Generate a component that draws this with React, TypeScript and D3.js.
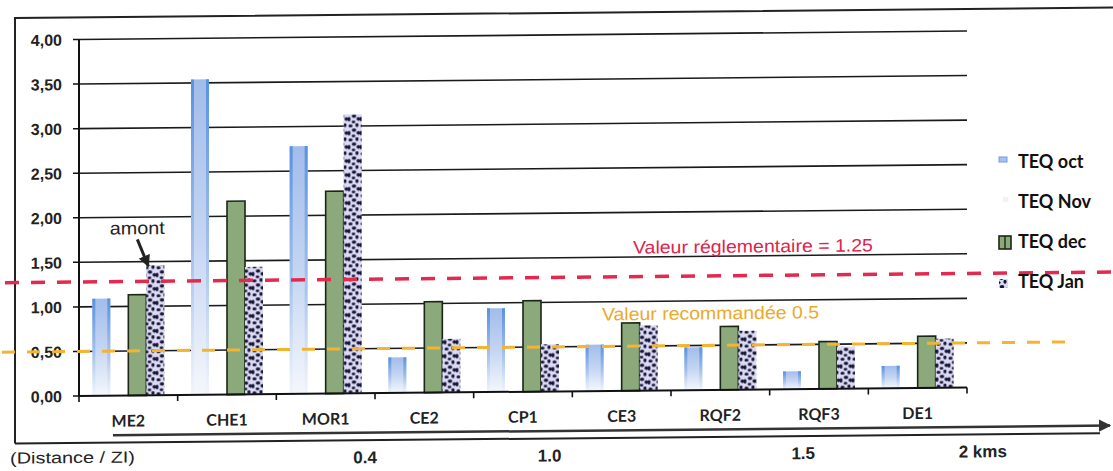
import React from "react";
import * as d3 from "d3";

// sites along the river, upstream -> downstream
const sites = ["ME2", "CHE1", "MOR1", "CE2", "CP1", "CE3", "RQF2", "RQF3", "DE1"];
const seriesNames = ["TEQ oct", "TEQ Nov", "TEQ dec", "TEQ Jan"];

const teqOct = [1.09, 3.54, 2.78, 0.4, 0.94, 0.52, 0.48, 0.2, 0.25];
// Nov bars are not visible in the source picture
const teqNov: (number | null)[] = [null, null, null, null, null, null, null, null, null];
const teqDec = [1.13, 2.17, 2.27, 1.02, 1.02, 0.76, 0.71, 0.53, 0.58];
const teqJan = [1.46, 1.43, 3.13, 0.6, 0.53, 0.73, 0.66, 0.47, 0.55];

const yTicks = [0, 0.5, 1, 1.5, 2, 2.5, 3, 3.5, 4];

const limitLabels = ["Valeur réglementaire = 1.25", "Valeur recommandée 0.5"];
const limitValues = [1.28, 0.5];

const distanceTitle = "(Distance / ZI)";
const distanceLabels = ["0.4", "1.0", "1.5", "2 kms"];
// position expressed in site index (0 = ME2 ... 8 = DE1)
const distanceAt = [2.4, 4.27, 6.84, 8.66];

const upstreamLabel = "amont";

const W = 1113;
const H = 471;
const plotLeft = 79;
const plotRight = 967;
const yBase = 396;
const yTop = 39.5;
const skew = Math.tan((0.55 * Math.PI) / 180);

const frenchFmt = d3
  .formatLocale({ decimal: ",", thousands: " ", grouping: [3], currency: ["", "€"] })
  .format(".2f");

const App: React.FC = () => {
  const x0 = d3.scaleBand<string>().domain(sites).range([plotLeft, plotRight]).padding(0);
  const x1 = d3
    .scaleBand<string>()
    .domain(seriesNames)
    .range([0, x0.bandwidth()])
    .paddingInner(0)
    .paddingOuter(0.74);
  const y = d3.scaleLinear().domain([0, 4]).range([yBase, yTop]);
  const dist = d3
    .scaleLinear()
    .domain([0, sites.length - 1])
    .range([x0(sites[0])! + x0.bandwidth() / 2, x0(sites[sites.length - 1])! + x0.bandwidth() / 2]);

  const values: Record<string, (number | null)[]> = {
    "TEQ oct": teqOct,
    "TEQ Nov": teqNov,
    "TEQ dec": teqDec,
    "TEQ Jan": teqJan,
  };

  const bw = x1.bandwidth();

  const bar = (s: string, i: number) => {
    const v = values[s][i];
    if (v == null) return null;
    const bx = x0(sites[i])! + x1(s)!;
    const by = y(v);
    const bh = yBase - by;
    if (s === "TEQ oct") {
      return (
        <g key={s + i}>
          <rect x={bx} y={by} width={bw} height={bh} fill="url(#octFill)" />
          <rect x={bx} y={by} width={3} height={bh} fill="url(#octEdge)" />
          <rect x={bx + bw - 3} y={by} width={3} height={bh} fill="url(#octEdge)" />
        </g>
      );
    }
    if (s === "TEQ dec") {
      return (
        <rect key={s + i} x={bx} y={by} width={bw} height={bh} fill="#8ca97b" stroke="#1c2616" strokeWidth={1.6} />
      );
    }
    if (s === "TEQ Jan") {
      return <rect key={s + i} x={bx} y={by} width={bw} height={bh} fill="url(#janPattern)" />;
    }
    return <rect key={s + i} x={bx} y={by} width={bw} height={bh} fill="#f6f6f9" />;
  };

  // "amont" arrow points at the Jan bar of the first site
  const tipX = x0(sites[0])! + x1("TEQ Jan")! + 2;
  const tipY = y(teqJan[0]) + 1;

  const legendY = [168, 208, 248, 288];

  return (
    <svg
      width={W}
      height={H}
      style={{ position: "absolute", left: 0, top: 0, background: "#fff" }}
      fontFamily="'Liberation Sans', Arial, sans-serif"
    >
      <defs>
        <linearGradient id="octFill" x1="0" y1="0" x2="0" y2="1">
          <stop offset="0" stopColor="#a2bcea" />
          <stop offset="0.5" stopColor="#c4d5f2" />
          <stop offset="1" stopColor="#f4f7fc" />
        </linearGradient>
        <linearGradient id="octEdge" x1="0" y1="0" x2="0" y2="1">
          <stop offset="0" stopColor="#4a8ae0" stopOpacity={0.85} />
          <stop offset="0.6" stopColor="#7aa7e6" stopOpacity={0.4} />
          <stop offset="1" stopColor="#b7ccee" stopOpacity={0.05} />
        </linearGradient>
        <pattern id="janPattern" patternUnits="userSpaceOnUse" width={12} height={14}>
          <rect width={12} height={14} fill="#dcdaf1" />
          <g fill="#16163a">
            <ellipse cx={2.5} cy={2.5} rx={2.1} ry={1.6} />
            <ellipse cx={9} cy={1.8} rx={1.6} ry={2} />
            <ellipse cx={6} cy={6.8} rx={2.3} ry={1.7} />
            <ellipse cx={1} cy={9.8} rx={1.5} ry={2.2} />
            <ellipse cx={10.4} cy={9.6} rx={1.9} ry={1.8} />
            <ellipse cx={5.5} cy={12.6} rx={1.9} ry={1.3} />
          </g>
        </pattern>
        <marker id="arrowHead" viewBox="0 0 10 10" refX={9} refY={5} markerWidth={4} markerHeight={4} orient="auto">
          <path d="M0,0 L10,5 L0,10 Z" fill="#222" />
        </marker>
        <marker id="axisHead" viewBox="0 0 10 10" refX={9} refY={5} markerWidth={5} markerHeight={5} orient="auto">
          <path d="M0,0 L10,5 L0,10 Z" fill="#333" />
        </marker>
      </defs>

      <g transform={`matrix(1 ${-skew} 0 1 0 ${skew * plotLeft})`}>
        {/* outer frame */}
        <path d={`M15,443 L15,17.5 L${W},17.5`} fill="none" stroke="#222" strokeWidth={2} />
        <line x1={15} x2={1100} y1={443} y2={443} stroke="#222" strokeWidth={2} />

        {/* grid */}
        {yTicks
          .filter((t) => t > 0)
          .map((t) => (
            <line key={t} x1={plotLeft} x2={plotRight} y1={y(t)} y2={y(t)} stroke="#1a1a1a" strokeWidth={1.6} />
          ))}

        {/* bars */}
        {sites.map((_, i) => seriesNames.map((s) => bar(s, i)))}

        {/* y axis */}
        <line x1={plotLeft} x2={plotLeft} y1={y(4)} y2={yBase} stroke="#111" strokeWidth={2} />
        {yTicks.map((t) => (
          <g key={"yt" + t}>
            <line x1={plotLeft - 6} x2={plotLeft} y1={y(t)} y2={y(t)} stroke="#111" strokeWidth={1.5} />
            <text x={62} y={y(t) + 6} textAnchor="end" fontSize={16} fontWeight="bold" fill="#222">
              {frenchFmt(t)}
            </text>
          </g>
        ))}

        {/* x axis */}
        <line x1={plotLeft} x2={plotRight} y1={yBase} y2={yBase} stroke="#111" strokeWidth={2} />
        {[...sites.map((s) => x0(s)!), plotRight].map((tx, i) => (
          <line key={"xt" + i} x1={tx} x2={tx} y1={yBase} y2={yBase + 6} stroke="#111" strokeWidth={1.6} />
        ))}
        {sites.map((s) => (
          <text
            key={"xl" + s}
            x={x0(s)! + x0.bandwidth() / 2}
            y={yBase + 31}
            textAnchor="middle"
            fontFamily="Lato, 'Open Sans', sans-serif"
            fontWeight="bold"
            fontSize={16}
            fill="#222"
          >
            {s}
          </text>
        ))}

        {/* limit lines */}
        <line x1={5} x2={W} y1={y(limitValues[0])} y2={y(limitValues[0])} stroke="#e4294f" strokeWidth={3.5} strokeDasharray="14 12" />
        <line x1={2} x2={1067} y1={y(limitValues[1])} y2={y(limitValues[1])} stroke="#f3b431" strokeWidth={3} strokeDasharray="13 12" />
        <text x={633} y={y(limitValues[0]) - 23} fontSize={18} fill="#e0234b" textLength={240} lengthAdjust="spacingAndGlyphs">
          {limitLabels[0]}
        </text>
        <text x={602} y={y(limitValues[1]) - 26} fontSize={18} fill="#eea928" textLength={217} lengthAdjust="spacingAndGlyphs">
          {limitLabels[1]}
        </text>

        {/* amont annotation */}
        <line x1={tipX - 11} y1={tipY - 27} x2={tipX} y2={tipY} stroke="#222" strokeWidth={3} markerEnd="url(#arrowHead)" />
        <text x={tipX - 11} y={tipY - 32} textAnchor="middle" fontSize={18} fill="#222" textLength={55} lengthAdjust="spacingAndGlyphs">
          {upstreamLabel}
        </text>

        {/* distance axis */}
        <line x1={113} x2={1110} y1={435.5} y2={435.5} stroke="#333" strokeWidth={2.5} markerEnd="url(#axisHead)" />
        <text x={10} y={463} fontSize={16} fill="#222" textLength={125} lengthAdjust="spacingAndGlyphs">
          {distanceTitle}
        </text>
        {distanceLabels.map((d, i) => (
          <text key={d} x={dist(distanceAt[i])} y={466} textAnchor="middle" fontSize={17} fontWeight="bold" fill="#222">
            {d}
          </text>
        ))}
      </g>

      {/* legend */}
      {seriesNames.map((s, i) => (
        <g key={"lg" + s}>
          {s === "TEQ oct" && <rect x={999} y={legendY[i] - 11} width={8} height={5} fill="#a9c1ec" stroke="#6c9be2" strokeWidth={1} />}
          {s === "TEQ Nov" && <rect x={1003} y={legendY[i] - 11} width={5} height={5} fill="#f2f2f5" />}
          {s === "TEQ dec" && (
            <g>
              <rect x={999} y={legendY[i] - 12} width={12} height={13} fill="#8ca97b" stroke="#1c2616" strokeWidth={1.6} />
              <line x1={1005} x2={1005} y1={legendY[i] - 12} y2={legendY[i] + 1} stroke="#1c2616" strokeWidth={1.4} />
            </g>
          )}
          {s === "TEQ Jan" && <rect x={999} y={legendY[i] - 9} width={9} height={9} fill="url(#janPattern)" />}
          <text x={1018} y={legendY[i]} fontFamily="Lato, 'Open Sans', sans-serif" fontWeight="bold" fontSize={18} fill="#111">
            {s}
          </text>
        </g>
      ))}
    </svg>
  );
};

export default App;
